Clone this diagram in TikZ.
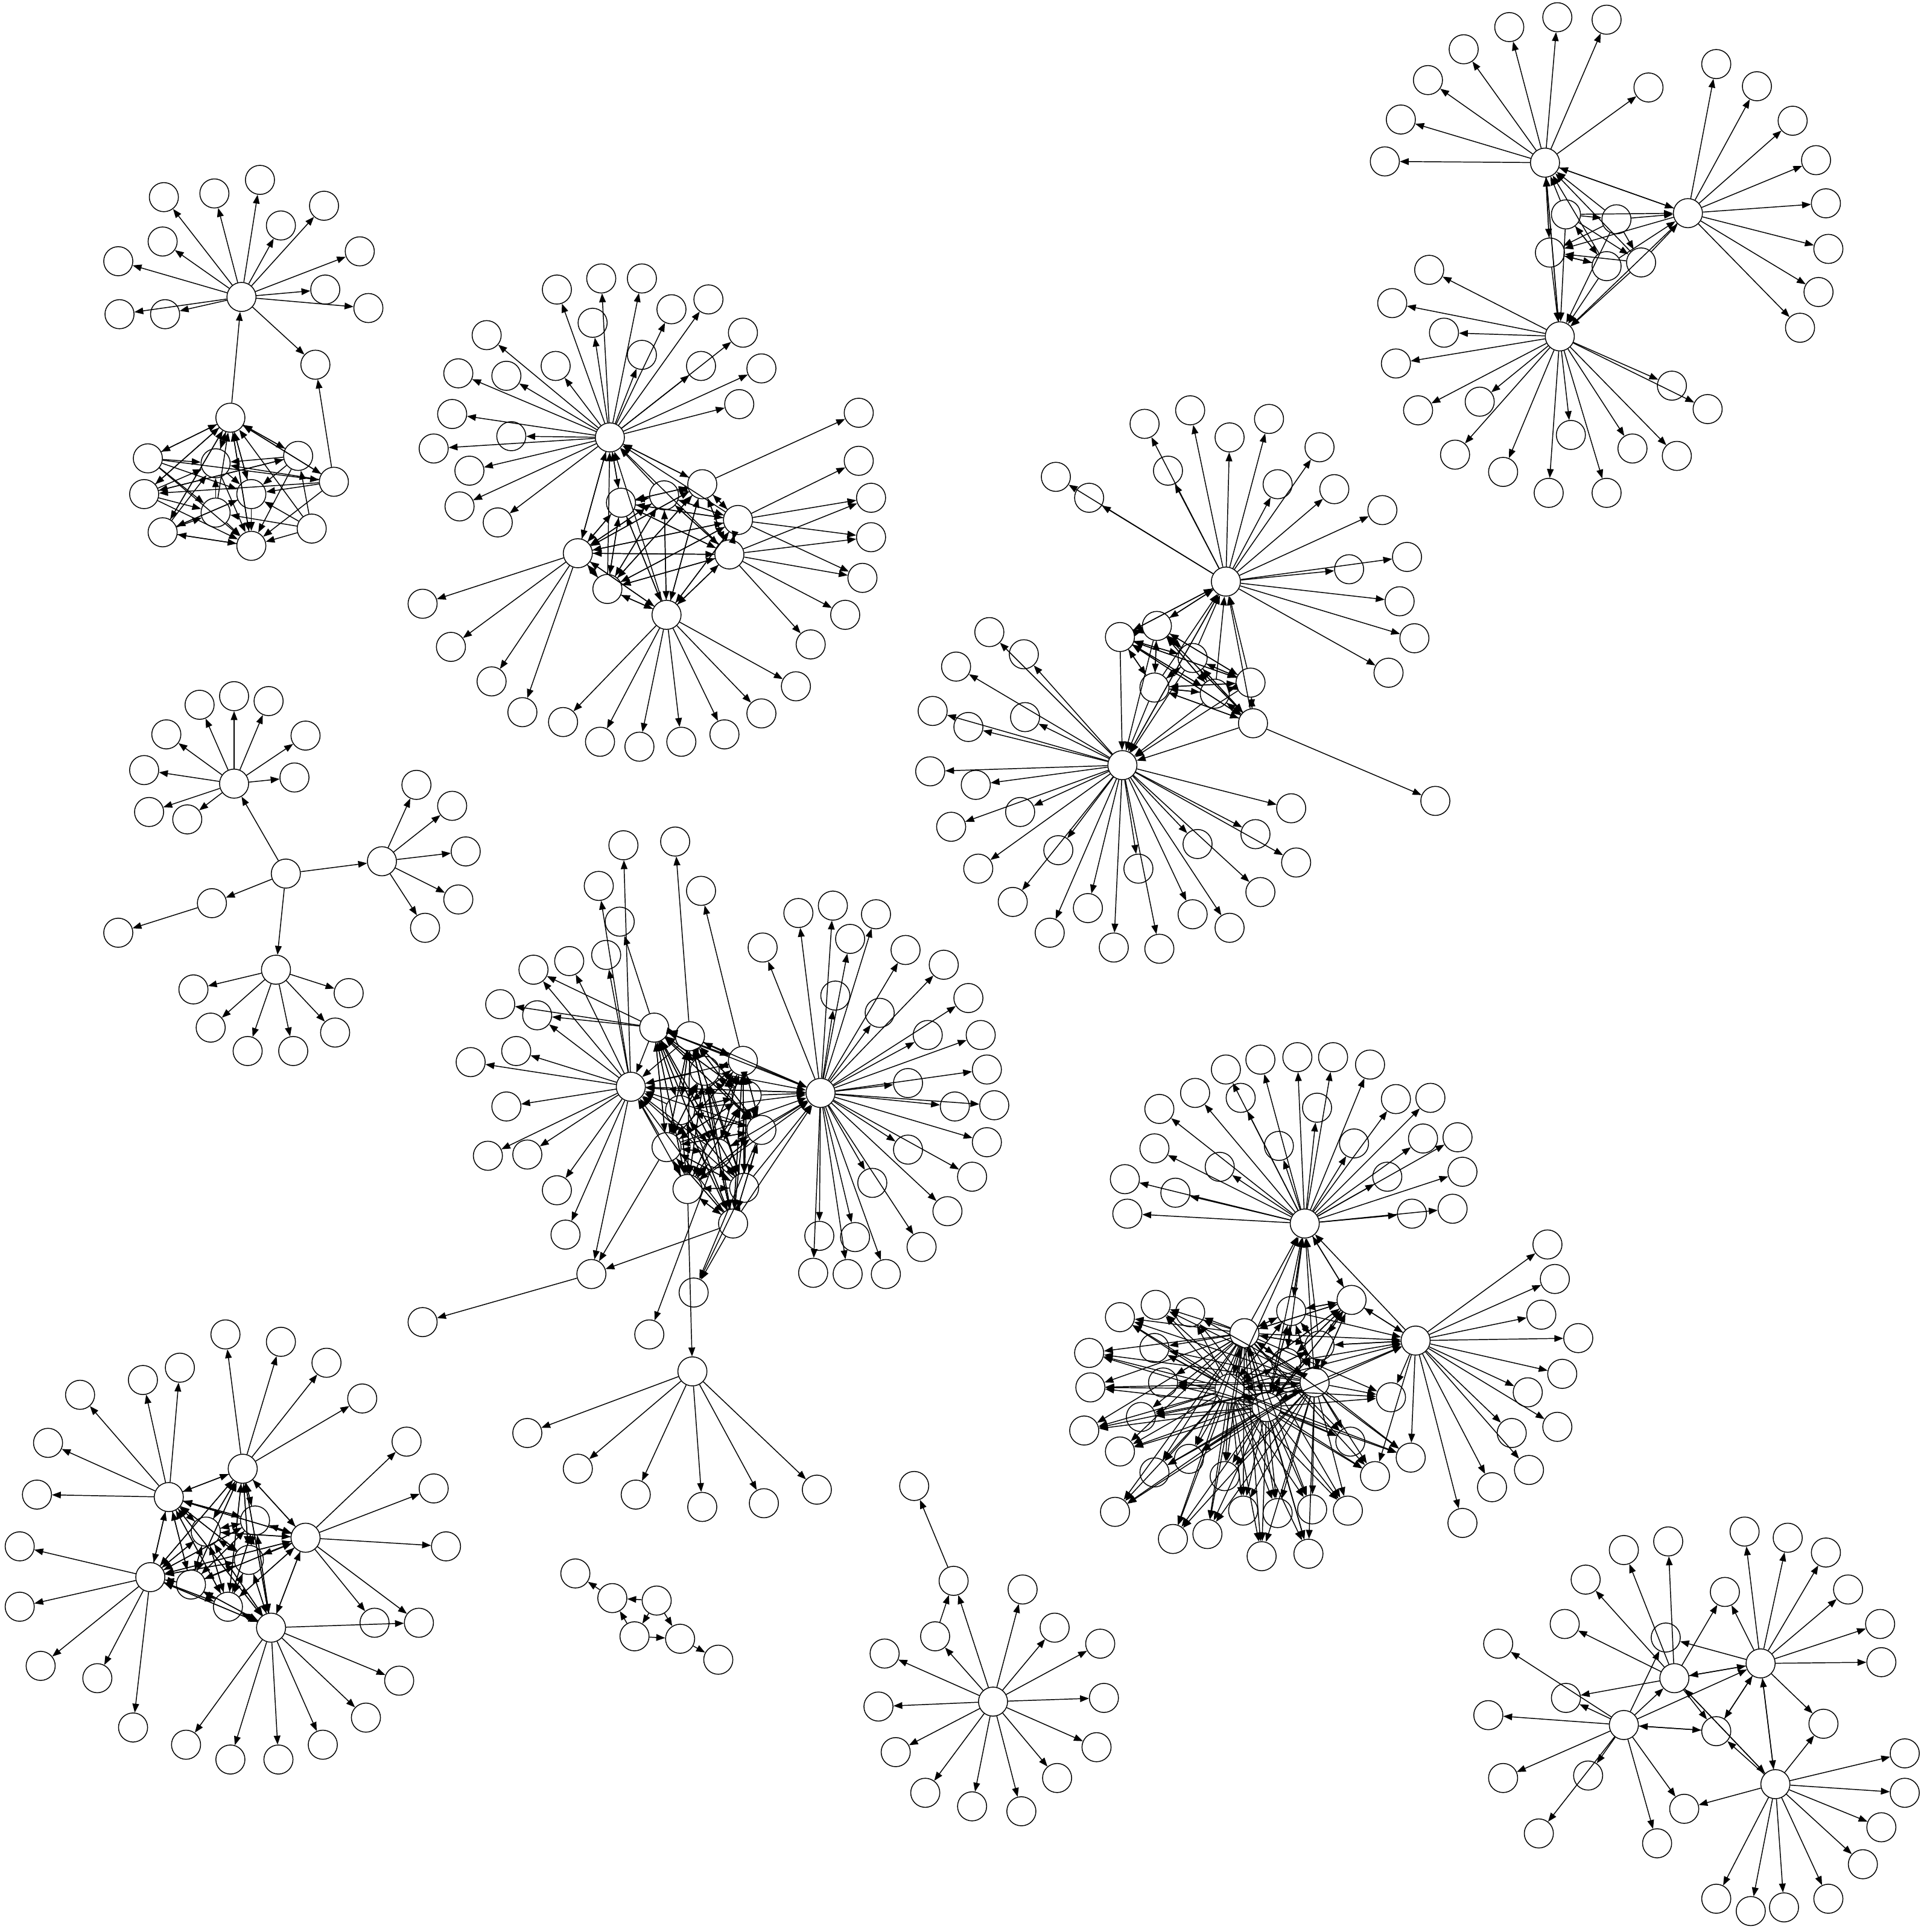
\documentclass[tikz,border=0pt]{standalone}
\usetikzlibrary{arrows.meta}
\begin{document}
\begin{tikzpicture}[x=0.5pt,y=-0.5pt,
 nd/.style={circle,draw,line width=0.36pt,minimum size=11.8pt,inner sep=0pt},
 ed/.style={-{Triangle[length=3.6pt,width=2.7pt]},line width=0.36pt}]
\useasboundingbox (0,0) rectangle (1561.3,1568);
% ================= Cluster A =================
\node[nd] (A0) at (196,241) {};
\foreach \i/\x/\y in {1/133/160,2/174/157,3/211/146,4/263/167,5/228/183,6/292/204,7/264/235,8/299/250,9/96/212,10/132/196,11/97/255,12/134/255,13/256/296}
 {\node[nd] (a\i) at (\x,\y) {}; \draw[ed] (A0) -- (a\i);}
\foreach \n/\x/\y in {Aa/187/339,Ab/120/372,Ac/117/401,Ad/132/432,Ae/204/443,Af/253/429,Ag/271/391,Ah/242/370,Ai/175/376,Aj/204/401,Ak/175/416}
 \node[nd] (\n) at (\x,\y) {};
\draw[ed] (Aa) -- (A0);
\draw[ed] (Ag) -- (a13);
\foreach \s/\t in {Ab/Aa,Ac/Aa,Ad/Aa,Ae/Aa,Af/Aa,Ag/Aa,Ah/Aa,Ai/Aa,Aj/Aa,Ak/Aa,
 Aa/Ab,Aa/Ac,Aa/Ah,Aa/Ag,Aa/Ai,Aa/Aj,Aa/Ad,
 Aa/Ae,Ab/Ae,Ac/Ae,Ad/Ae,Af/Ae,Ag/Ae,Ah/Ae,Ai/Ae,Aj/Ae,Ak/Ae,Ae/Ad,
 Ab/Ai,Ab/Ak,Ab/Aj,Ac/Ai,Ac/Ak,Ac/Ah,Ad/Ai,Ad/Ak,Ah/Ai,Ah/Ac,Ah/Aj,Ag/Aj,Ag/Ai,Ag/Ac,
 Af/Ak,Af/Aj,Af/Ah,Ai/Aj,Ak/Ai,Aj/Ad,Ab/Ag,Ad/Aj}
 \draw[ed] (\s) -- (\t);
% ================= Cluster B =================
\node[nd] (B0) at (495,355) {};
\foreach \i/\x/\y in {1/452/235,2/488/226,3/521/226,4/481/262,5/545/251,6/575/243,7/521/288,8/451/297,9/569/297,10/603/270,11/618/299,12/600/328,13/395/272,14/411/305,15/372/303,16/367/336,17/352/364,18/415/354,19/381/382,20/373/411,21/404/424}
 {\node[nd] (b\i) at (\x,\y) {}; \draw[ed] (B0) -- (b\i);}
\foreach \i/\x/\y in {1/570/393,2/599/422,3/592/450,4/541/499,5/493/478,6/469/449,7/504/408,8/539/402}
 \node[nd] (B\i) at (\x,\y) {};
\node[nd] (br1) at (697,335) {}; \draw[ed] (B1) -- (br1);
\foreach \i/\x/\y in {2/697/374,3/707/404,4/707/436,5/700/469}
 {\node[nd] (br\i) at (\x,\y) {}; \draw[ed] (B2) -- (br\i);}
\foreach \i/\x/\y in {6/686/499,7/658/523}
 {\node[nd] (br\i) at (\x,\y) {}; \draw[ed] (B3) -- (br\i);}
\foreach \t in {br3,br4,br5} \draw[ed] (B3) -- (\t);
\foreach \i/\x/\y in {1/343/490,2/366/525,3/399/553,4/424/578}
 {\node[nd] (bl\i) at (\x,\y) {}; \draw[ed] (B6) -- (bl\i);}
\foreach \i/\x/\y in {1/457/586,2/487/602,3/519/606,4/553/602,5/588/596,6/618/579,7/646/557}
 {\node[nd] (bd\i) at (\x,\y) {}; \draw[ed] (B4) -- (bd\i);}
\foreach \i in {1,...,8}{\draw[ed] (B\i) -- (B0);
 \foreach \j in {1,...,8}{\ifnum\i=\j\relax\else\draw[ed] (B\i) -- (B\j);\fi}}
\foreach \t in {B1,B6,B7} \draw[ed] (B0) -- (\t);
% ================= Cluster C =================
\node[nd] (C0) at (1254,132) {};
\node[nd] (C1) at (1370,173) {};
\node[nd] (C2) at (1266,273) {};
\foreach \i/\x/\y in {1/1188/40,2/1225/22,3/1264/14,4/1304/16,5/1338/71,6/1159/65,7/1137/97,8/1124/131}
 {\node[nd] (ca\i) at (\x,\y) {}; \draw[ed] (C0) -- (ca\i);}
\foreach \i/\x/\y in {1/1393/52,2/1426/70,3/1455/98,4/1474/130,5/1482/165,6/1484/202,7/1476/237,8/1461/266}
 {\node[nd] (cb\i) at (\x,\y) {}; \draw[ed] (C1) -- (cb\i);}
\foreach \i/\x/\y in {1/1160/219,2/1130/246,3/1172/270,4/1133/295,5/1151/333,6/1201/326,7/1181/369,8/1220/383,9/1257/400,10/1275/353,11/1304/400,12/1325/364,13/1357/313,14/1386/332,15/1361/370}
 {\node[nd] (cc\i) at (\x,\y) {}; \draw[ed] (C2) -- (cc\i);}
\foreach \n/\x/\y in {C3/1271/174,C4/1312/178,C5/1258/205,C6/1304/216,C7/1332/213}
 \node[nd] (\n) at (\x,\y) {};
\foreach \s/\t in {C0/C2,C2/C0,C0/C1,C1/C0,C1/C2,C3/C0,C4/C0,C5/C0,C6/C0,C7/C0,C0/C5,
 C3/C1,C4/C1,C1/C5,C6/C1,C7/C1,C3/C2,C6/C2,C7/C2,C4/C2,C5/C2,
 C3/C4,C3/C6,C3/C7,C6/C5,C7/C5,C5/C6,C4/C5,C6/C3,C4/C7}
 \draw[ed] (\s) -- (\t);
% ================= Cluster D =================
\node[nd] (D0) at (995,472) {};
\node[nd] (D1) at (911,621) {};
\foreach \i/\x/\y in {1/857/387,2/884/404,3/929/344,4/966/333,5/998/355,6/1030/340,7/1071/363,8/948/382,9/1037/393,10/1083/397,11/1122/414,12/1142/452,13/1095/462,14/1136/488,15/1148/518,16/1127/546}
 {\node[nd] (da\i) at (\x,\y) {}; \draw[ed] (D0) -- (da\i);}
\foreach \i/\x/\y in {1/803/513,2/831/531,3/776/541,4/757/577,5/786/590,6/832/582,7/755/626,8/792/637,9/772/671,10/828/659,11/794/705,12/859/690,13/822/732,14/852/757,15/883/737,16/904/769,17/941/770,18/924/705,19/968/742,20/998/753,21/1023/724,22/972/685,23/1019/677,24/1052/700,25/1048/656}
 {\node[nd] (db\i) at (\x,\y) {}; \draw[ed] (D1) -- (db\i);}
\foreach \i/\x/\y in {2/939/508,3/909/517,4/968/534,5/1015/554,6/937/558,7/986/563,8/1017/587}
 \node[nd] (D\i) at (\x,\y) {};
\node[nd] (dx) at (1165,650) {}; \draw[ed] (D8) -- (dx);
\foreach \i in {2,...,8}{\draw[ed] (D\i) -- (D0); \draw[ed] (D\i) -- (D1);
 \foreach \j in {2,...,8}{\ifnum\i=\j\relax\else\draw[ed] (D\i) -- (D\j);\fi}}
\foreach \s/\t in {D0/D2,D0/D3,D0/D1,D1/D0} \draw[ed] (\s) -- (\t);
% ================= Cluster E =================
\foreach \n/\x/\y in {E0/232/709,E1/190/636,E2/310/699,E3/172/733,E4/224/787}
 \node[nd] (\n) at (\x,\y) {};
\foreach \t in {E1,E2,E3,E4} \draw[ed] (E0) -- (\t);
\foreach \i/\x/\y in {1/162/572,2/190/565,3/218/569,4/248/597,5/239/631,6/117/625,7/121/659,8/152/665,9/135/596}
 {\node[nd] (ea\i) at (\x,\y) {}; \draw[ed] (E1) -- (ea\i);}
\foreach \i/\x/\y in {1/338/637,2/367/654,3/378/691,4/372/730,5/345/753}
 {\node[nd] (eb\i) at (\x,\y) {}; \draw[ed] (E2) -- (eb\i);}
\node[nd] (ec1) at (96,757) {}; \draw[ed] (E3) -- (ec1);
\foreach \i/\x/\y in {1/157/803,2/171/834,3/201/853,4/238/853,5/272/838,6/283/806}
 {\node[nd] (ed\i) at (\x,\y) {}; \draw[ed] (E4) -- (ed\i);}
% ================= Cluster F =================
\node[nd] (FH) at (666,887) {};
\node[nd] (F0) at (512,882) {};
\foreach \i/\x/\y in {1/619/769,2/648/741,3/676/735,4/711/742,5/690/762,6/735/771,7/678/808,8/766/783,9/714/822,10/786/810,11/753/840,12/796/840,13/801/868,14/737/879,15/807/897,16/775/898,17/801/927,18/737/933,19/789/955,20/769/983,21/708/960,22/748/1012,23/719/1034,24/688/1034,25/694/1004,26/665/1003,27/660/1033}
 {\node[nd] (fh\i) at (\x,\y) {}; \draw[ed] (FH) -- (fh\i);}
\foreach \i/\x/\y in {1/433/787,2/462/780,3/492/775,4/436/824,5/419/853,6/382/862,7/411/898,8/396/938,9/428/937,10/452/966,11/459/1002,12/506/686,13/486/719}
 {\node[nd] (fo\i) at (\x,\y) {}; \draw[ed] (F0) -- (fo\i);}
\foreach \i/\x/\y in {1/531/834,2/560/841,3/603/861,4/606/889,5/572/869,6/618/917,7/541/931,8/582/936,9/558/965,10/604/964,11/595/993,12/552/901}
 \node[nd] (F\i) at (\x,\y) {};
\foreach \n/\x/\y in {fo14/406/815,fu1/548/683,fu2/569/723,fu3/503/748,Fa/480/1034,fx/343/1073,Fb/563/1049,Fc/527/1083,FG/562/1113}
 \node[nd] (\n) at (\x,\y) {};
\foreach \s/\t in {F1/fo14,F1/fo1,F1/fo4,F2/fu1,F3/fu2,F1/fu3,F0/Fa,F11/Fa,F7/Fa,Fa/fx,F10/Fb,F11/Fb,F6/Fb,F8/Fc,F9/FG,F0/FH,FH/F0}
 \draw[ed] (\s) -- (\t);
\foreach \i/\x/\y in {1/428/1163,2/469/1192,3/516/1213,4/570/1223,5/620/1220,6/663/1209}
 {\node[nd] (fg\i) at (\x,\y) {}; \draw[ed] (FG) -- (fg\i);}
\foreach \i in {1,...,12}{\draw[ed] (F\i) -- (FH); \draw[ed] (F\i) -- (F0);
 \foreach \j in {1,...,12}{\ifnum\i=\j\relax\else\draw[ed] (F\i) -- (F\j);\fi}}
% ================= Cluster G =================
\foreach \i/\x/\y in {1/137/1215,2/197/1192,3/248/1248,4/122/1280,5/220/1321,6/207/1234,7/167/1243,8/202/1266,9/155/1286,10/185/1304}
 \node[nd] (G\i) at (\x,\y) {};
\foreach \i/\x/\y in {1/65/1132,2/39/1171,3/30/1213,4/116/1120,5/146/1110}
 {\node[nd] (ga\i) at (\x,\y) {}; \draw[ed] (G1) -- (ga\i);}
\foreach \i/\x/\y in {1/183/1083,2/228/1089,3/265/1106,4/294/1135}
 {\node[nd] (gb\i) at (\x,\y) {}; \draw[ed] (G2) -- (gb\i);}
\foreach \i/\x/\y in {1/330/1170,2/352/1208,3/362/1255,4/340/1317,5/304/1317}
 {\node[nd] (gc\i) at (\x,\y) {}; \draw[ed] (G3) -- (gc\i);}
\foreach \i/\x/\y in {1/16/1255,2/16/1304,3/33/1352,4/79/1362,5/108/1402}
 {\node[nd] (gd\i) at (\x,\y) {}; \draw[ed] (G4) -- (gd\i);}
\foreach \i/\x/\y in {1/151/1416,2/187/1428,3/226/1428,4/262/1416,5/297/1394,6/324/1364}
 {\node[nd] (ge\i) at (\x,\y) {}; \draw[ed] (G5) -- (ge\i);}
\draw[ed] (G5) -- (gc4);
\foreach \i in {1,...,10}{\foreach \j in {1,...,10}{\ifnum\i=\j\relax\else\draw[ed] (G\i) -- (G\j);\fi}}
% ================= Cluster H =================
\foreach \i/\x/\y in {1/467/1277,2/497/1297,3/533/1299,4/515/1328,5/552/1330,6/583/1347}
 \node[nd] (H\i) at (\x,\y) {};
\foreach \s/\t in {H2/H1,H3/H2,H4/H2,H3/H4,H3/H5,H4/H5,H5/H6} \draw[ed] (\s) -- (\t);
% ================= Cluster I =================
\foreach \n/\x/\y in {I0/806/1381,I1/774/1283,I2/742/1206,Ia/759/1328}
 \node[nd] (\n) at (\x,\y) {};
\foreach \s/\t in {I0/I1,I1/I2,I0/Ia,Ia/I1} \draw[ed] (\s) -- (\t);
\foreach \i/\x/\y in {1/830/1290,2/856/1321,3/893/1334,4/896/1378,5/890/1418,6/858/1443,7/829/1470,8/789/1466,9/751/1455,10/727/1422,11/713/1385,12/718/1342}
 {\node[nd] (ia\i) at (\x,\y) {}; \draw[ed] (I0) -- (ia\i);}
% ================= Cluster J =================
\node[nd] (J0) at (1059,993) {};
\node[nd] (J1) at (1149,1088) {};
\foreach \i/\x/\y in {1/995/868,2/1023/860,3/1053/858,4/1082/858,5/1112/864,6/1133/892,7/1161/891,8/1183/923,9/1187/951,10/1179/981,11/1146/985,12/1126/955,13/1155/924,14/1069/899,15/1099/928,16/1038/930,17/1007/891,18/970/887,19/941/900,20/937/932,21/954/968,22/913/957,23/915/985,24/990/947}
 {\node[nd] (ja\i) at (\x,\y) {}; \draw[ed] (J0) -- (ja\i);}
\foreach \i/\x/\y in {1/1256/1010,2/1262/1038,3/1251/1067,4/1281/1086,5/1268/1115,6/1240/1130,7/1264/1158,8/1227/1163,9/1241/1193,10/1211/1207,11/1187/1236}
 {\node[nd] (jb\i) at (\x,\y) {}; \draw[ed] (J1) -- (jb\i);}
\foreach \i/\x/\y in {2/1048/1064,3/1097/1055,4/1010/1082,5/1071/1092,6/998/1127,7/1028/1142,8/1067/1122,9/1044/1106}
 \node[nd] (J\i) at (\x,\y) {};
\foreach \i/\x/\y in {1/909/1069,2/938/1059,3/966/1065,4/884/1098,5/885/1126,6/880/1161,7/909/1178,8/937/1195,9/965/1184,10/905/1227,11/952/1249,12/980/1245,13/1009/1226,14/1037/1228,15/1024/1263,16/1065/1225,17/1062/1261,18/1094/1226,19/1116/1198,20/1145/1183,21/1129/1134,22/1096/1170,23/937/1094,24/944/1122,25/926/1150,26/994/1198}
 {\node[nd] (jc\i) at (\x,\y) {};
  \foreach \s in {J4,J6,J7,J8} \draw[ed] (\s) -- (jc\i);}
\foreach \t in {jc20,jc21,jc19} \draw[ed] (J1) -- (\t);
\foreach \i in {2,...,9}{\draw[ed] (J\i) -- (J0); \draw[ed] (J\i) -- (J1);
 \foreach \j in {2,...,9}{\ifnum\i=\j\relax\else\draw[ed] (J\i) -- (J\j);\fi}}
\foreach \s/\t in {J0/J2,J0/J3,J1/J3,J1/J5,J1/J0} \draw[ed] (\s) -- (\t);
% ================= Cluster K =================
\foreach \n/\x/\y in {K1/1359/1362,K2/1429/1350,K3/1318/1400,K4/1441/1448,K5/1352/1329,K6/1393/1405,
 k1/1270/1318,k2/1400/1292,k3/1271/1378,k4/1289/1441,k5/1367/1468,k6/1480/1399}
 \node[nd] (\n) at (\x,\y) {};
\foreach \i/\x/\y in {1/1287/1282,2/1318/1258,3/1354/1251}
 {\node[nd] (ka\i) at (\x,\y) {}; \draw[ed] (K1) -- (ka\i);}
\foreach \i/\x/\y in {1/1216/1334,2/1208/1392,3/1220/1443,4/1249/1488,5/1345/1496}
 {\node[nd] (kb\i) at (\x,\y) {}; \draw[ed] (K3) -- (kb\i);}
\foreach \i/\x/\y in {1/1416/1243,2/1451/1248,3/1482/1260,4/1500/1290,5/1526/1318,6/1527/1349}
 {\node[nd] (kc\i) at (\x,\y) {}; \draw[ed] (K2) -- (kc\i);}
\foreach \i/\x/\y in {1/1546/1423,2/1546/1455,3/1527/1483,4/1512/1513,5/1484/1541,6/1448/1548,7/1421/1551,8/1393/1541}
 {\node[nd] (kd\i) at (\x,\y) {}; \draw[ed] (K4) -- (kd\i);}
\foreach \s/\t in {K1/k1,K1/k2,K2/k2,K1/k3,K3/k3,K3/k4,K3/k5,K4/k5,K2/k6,K4/k6,
 K1/K2,K2/K1,K3/K1,K1/K6,K1/K4,K4/K1,K3/K6,K6/K3,K3/K2,K2/K5,K3/K5,K2/K6,K6/K2,K2/K4,K4/K2,K4/K6}
 \draw[ed] (\s) -- (\t);
\end{tikzpicture}
\end{document}
